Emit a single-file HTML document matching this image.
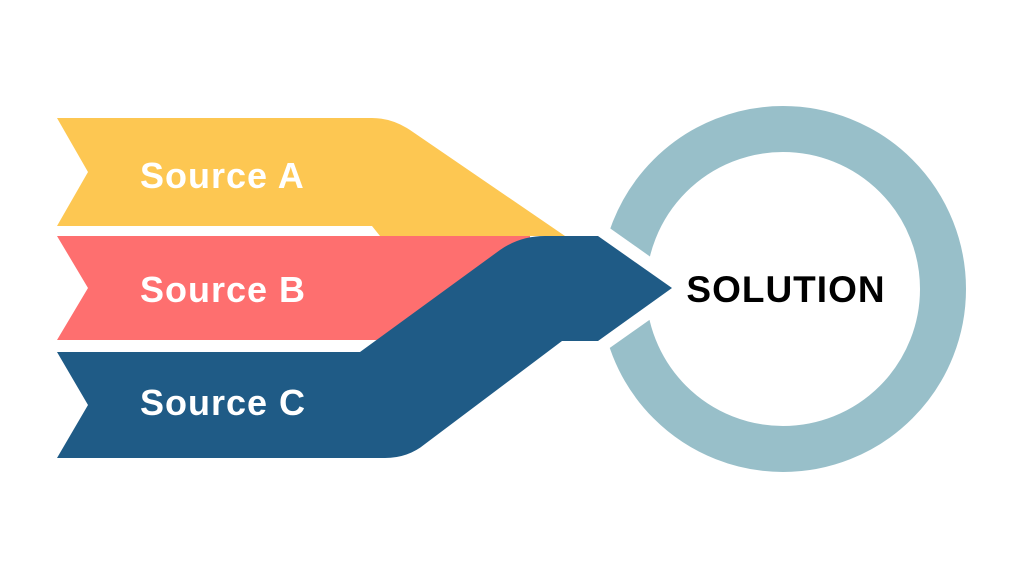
<!DOCTYPE html>
<html><head><style>body{margin:0;background:#fff}svg{display:block}text{font-family:"Liberation Sans",sans-serif;font-weight:bold}</style></head><body>
<svg width="1024" height="576" viewBox="0 0 1024 576">
<rect width="1024" height="576" fill="#fff"/>
<circle cx="783" cy="289" r="160" fill="none" stroke="#98bfc9" stroke-width="46"/>
<path d="M57,236 L530,236 L530,340 L57,340 L88,288 Z" fill="#fe6f6f"/>
<path d="M57,118 L372,118 Q392,118 410,130 L565,236 L380,236 L372,226 L57,226 L88,172 Z" fill="#fdc752"/>
<path d="M597,235 L672,288 L597,341" fill="none" stroke="#fff" stroke-width="26" stroke-linejoin="miter"/>
<path d="M57,352 L360,352 L500,250 Q520,236 545,236 L598,236 L672,288 L598,341 L562,341 L425,444 Q408,458 385,458 L57,458 L88,405 Z" fill="#1f5b86"/>
<text x="140" y="188" font-size="36" letter-spacing="1" fill="#fff">Source A</text>
<text x="140" y="302" font-size="36" letter-spacing="1" fill="#fff">Source B</text>
<text x="140" y="415" font-size="36" letter-spacing="1" fill="#fff">Source C</text>
<text x="786" y="302" font-size="37" letter-spacing="1" fill="#000" text-anchor="middle">SOLUTION</text>
</svg>
</body></html>
